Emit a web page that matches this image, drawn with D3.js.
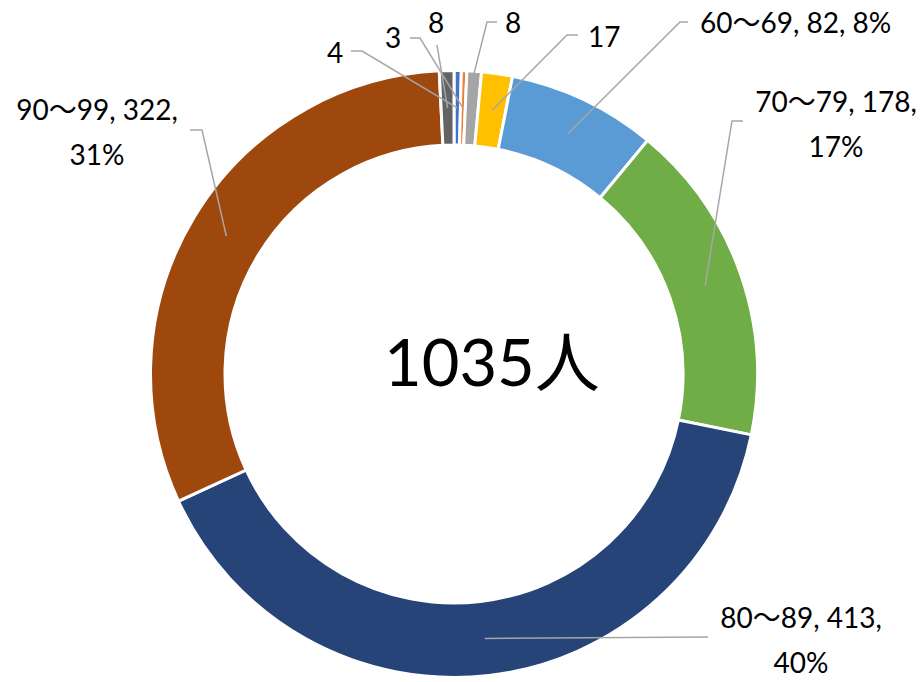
<!DOCTYPE html>
<html>
<head>
<meta charset="utf-8">
<script src="https://cdn.jsdelivr.net/npm/d3@7"></script>
<style>
  body { margin: 0; background: #fff; }
  text { font-family: Lato, "Noto Sans CJK JP", sans-serif; fill: #000; }
</style>
</head>
<body>
<script>
// age groups, clockwise from 12 o'clock
const categories = ['～29', '30～39', '40～49', '50～59', '60～69', '70～79', '80～89', '90～99', '100～']
const values = [4, 3, 8, 17, 82, 178, 413, 322, 8]
const colors = ['#4472C4', '#ED7D31', '#A5A5A5', '#FFC000', '#5B9BD5', '#70AD47', '#264478', '#9E480E', '#636363']
// which labels show the category name + percent (the big ones)
const fullLabel = [false, false, false, false, true, true, true, true, false]

// label layout: text anchor point, line breaks, leader elbow points
const labelLayout = [
  { x: 327, y: 63, anchor: 'start', lines: 1, leader: [[351, 51], [362, 51]], edge: 'mid' },
  { x: 385, y: 48, anchor: 'start', lines: 1, leader: [[410, 38], [420, 38]], edge: 'mid' },
  { x: 505, y: 33, anchor: 'start', lines: 1, leader: [[497, 22], [487, 22]], edge: 'outer' },
  { x: 588, y: 47, anchor: 'start', lines: 1, leader: [[578, 35], [567, 35]], edge: 'mid' },
  { x: 700, y: 33, anchor: 'start', lines: 1, leader: [[688, 22], [680, 22]], edge: 'mid' },
  { x: 836, y: 112, anchor: 'middle', lines: 2, leader: [[743, 121], [732, 121]], edge: 'mid' },
  { x: 801, y: 628, anchor: 'middle', lines: 2, leader: [[708, 637]], edge: 'mid' },
  { x: 97, y: 120, anchor: 'middle', lines: 2, leader: [[190, 130], [202, 130]], edge: 'mid' },
  { x: 428, y: 33, anchor: 'start', lines: 1, leader: [[437, 45]], edge: 'mid' }
]

const W = 921, H = 682
const cx = 454, cy = 374
const rOuter = 303.5, rInner = 229

const total = d3.sum(values)

const svg = d3.select('body').append('svg')
  .attr('width', W)
  .attr('height', H)

const g = svg.append('g').attr('transform', `translate(${cx},${cy})`)

const pie = d3.pie().sort(null).value(d => d)
const arcs = pie(values)

const arc = d3.arc().innerRadius(rInner).outerRadius(rOuter)
const midArc = d3.arc().innerRadius((rInner + rOuter) / 2).outerRadius((rInner + rOuter) / 2)
const outerArc = d3.arc().innerRadius(rOuter - 2).outerRadius(rOuter - 2)

g.selectAll('path.slice')
  .data(arcs)
  .enter().append('path')
  .attr('class', 'slice')
  .attr('d', arc)
  .attr('fill', (d, i) => colors[i])
  .attr('stroke', '#fff')
  .attr('stroke-width', 3)

// leader lines
arcs.forEach((d, i) => {
  const lay = labelLayout[i]
  const p = lay.edge === 'outer' ? outerArc.centroid(d) : midArc.centroid(d)
  const pts = lay.leader.map(q => [q[0], q[1]]).concat([[p[0] + cx, p[1] + cy]])
  svg.append('path')
    .attr('d', d3.line()(pts))
    .attr('fill', 'none')
    .attr('stroke', '#A6A6A6')
    .attr('stroke-width', 1.5)
})

// labels
arcs.forEach((d, i) => {
  const lay = labelLayout[i]
  const v = values[i]
  const pct = Math.round(v / total * 100) + '%'
  let lines
  if (!fullLabel[i]) lines = [String(v)]
  else if (lay.lines === 1) lines = [`${categories[i]}, ${v}, ${pct}`]
  else lines = [`${categories[i]}, ${v},`, pct]

  const t = svg.append('text')
    .attr('x', lay.x)
    .attr('y', lay.y)
    .attr('text-anchor', lay.anchor)
    .attr('font-size', 28)
  lines.forEach((s, k) => {
    t.append('tspan')
      .attr('x', lay.x)
      .attr('dy', k === 0 ? 0 : 45)
      .text(s)
  })
})

// total in the middle
svg.append('text')
  .attr('x', 384)
  .attr('y', 386)
  .attr('font-size', 65)
  .text(total + '人')
</script>
</body>
</html>
